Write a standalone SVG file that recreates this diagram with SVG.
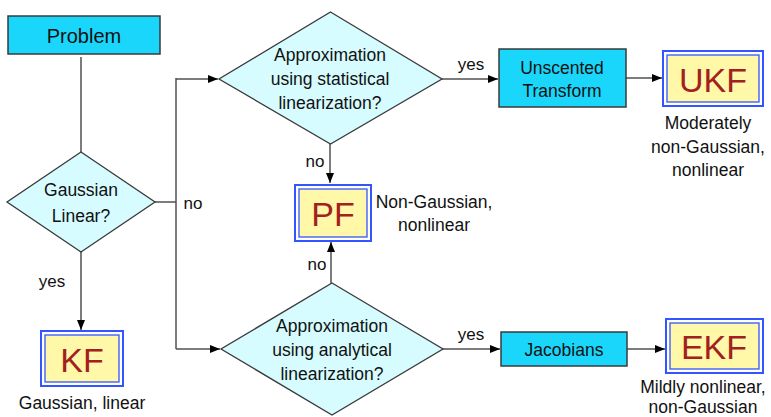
<svg xmlns="http://www.w3.org/2000/svg" width="771" height="417" viewBox="0 0 771 417">
<style>
text{font-family:"Liberation Sans",Arial,sans-serif;fill:#111;text-anchor:middle;dominant-baseline:central}
.t{font-size:17.5px}
.lbl{font-size:17px}
.proc{fill:#1bd6fb;stroke:#3a3a3a;stroke-width:1.5}
.dec{fill:#d6fcff;stroke:#3a3a3a;stroke-width:1.3}
.outer{fill:#fff;stroke:#3355ff;stroke-width:2}
.inner{fill:#fff8a8;stroke:#3355ff;stroke-width:1.3}
.big{font-size:34px;fill:#a32020}
.c{fill:none;stroke:#505050;stroke-width:1.5}
</style>
<defs>
<marker id="ah" viewBox="0 0 10 10" refX="10" refY="5" markerWidth="10" markerHeight="10" markerUnits="userSpaceOnUse" orient="auto">
<path d="M0,1 L10,5 L0,9 Z" fill="#000"/>
</marker>
</defs>
<g id="connectors">
<path class="c" d="M81,57 V152"/>
<path class="c" d="M155,202 H176"/>
<path class="c" d="M176,78 V349"/>
<path class="c" d="M176,79 H218" marker-end="url(#ah)"/>
<path class="c" d="M176,349 H220" marker-end="url(#ah)"/>
<path class="c" d="M81,252 V330" marker-end="url(#ah)"/>
<path class="c" d="M442,79 H498" marker-end="url(#ah)"/>
<path class="c" d="M626,78 H662" marker-end="url(#ah)"/>
<path class="c" d="M330,144 V183" marker-end="url(#ah)"/>
<path class="c" d="M331,283 V242" marker-end="url(#ah)"/>
<path class="c" d="M443,349 H500" marker-end="url(#ah)"/>
<path class="c" d="M627,349 H665" marker-end="url(#ah)"/>
<text class="lbl" x="193" y="203">no</text>
<text class="lbl" x="52" y="281">yes</text>
<text class="lbl" x="471" y="64">yes</text>
<text class="lbl" x="315" y="161">no</text>
<text class="lbl" x="317" y="264">no</text>
<text class="lbl" x="471" y="334">yes</text>
</g>
<g id="problem">
<rect class="proc" x="8" y="16" width="152" height="38"/>
<text x="84" y="36" style="font-size:20px">Problem</text>
</g>
<g id="gaussian">
<polygon class="dec" points="81,152 155,202 81,252 7,202"/>
<text class="t" x="81" y="190">Gaussian</text>
<text class="t" x="81" y="216">Linear?</text>
</g>
<g id="kf">
<rect class="outer" x="41" y="331" width="82" height="55"/>
<rect class="inner" x="45" y="335" width="74" height="47"/>
<text class="big" x="82" y="360">KF</text>
<text class="t" x="82" y="403">Gaussian, linear</text>
</g>
<g id="statdec">
<polygon class="dec" points="330.5,12 442,79 330.5,144 219,79"/>
<text class="t" x="330" y="55">Approximation</text>
<text class="t" x="330" y="79">using statistical</text>
<text class="t" x="330" y="103">linearization?</text>
</g>
<g id="unscented">
<rect class="proc" x="499" y="49" width="127" height="58"/>
<text class="t" x="562" y="68">Unscented</text>
<text class="t" x="562" y="91">Transform</text>
</g>
<g id="ukf">
<rect class="outer" x="663" y="51" width="100" height="55"/>
<rect class="inner" x="667" y="55" width="92" height="47"/>
<text class="big" x="713" y="80">UKF</text>
<text class="t" x="708" y="123">Moderately</text>
<text class="t" x="708" y="147">non-Gaussian,</text>
<text class="t" x="708" y="170">nonlinear</text>
</g>
<g id="pf">
<rect class="outer" x="295" y="185" width="76" height="56"/>
<rect class="inner" x="299" y="189" width="68" height="48"/>
<text class="big" x="333" y="214">PF</text>
<text class="t" x="434" y="202">Non-Gaussian,</text>
<text class="t" x="434" y="225">nonlinear</text>
</g>
<g id="analdec">
<polygon class="dec" points="332,283 443,349 332,415 221,349"/>
<text class="t" x="332" y="326">Approximation</text>
<text class="t" x="332" y="350">using analytical</text>
<text class="t" x="332" y="374">linearization?</text>
</g>
<g id="jacobians">
<rect class="proc" x="501" y="332" width="126" height="34"/>
<text class="t" x="564" y="350">Jacobians</text>
</g>
<g id="ekf">
<rect class="outer" x="666" y="319" width="97" height="54"/>
<rect class="inner" x="670" y="323" width="89" height="46"/>
<text class="big" x="714" y="347">EKF</text>
<text class="t" x="703" y="387">Mildly nonlinear,</text>
<text class="t" x="703" y="407">non-Gaussian</text>
</g>
</svg>
